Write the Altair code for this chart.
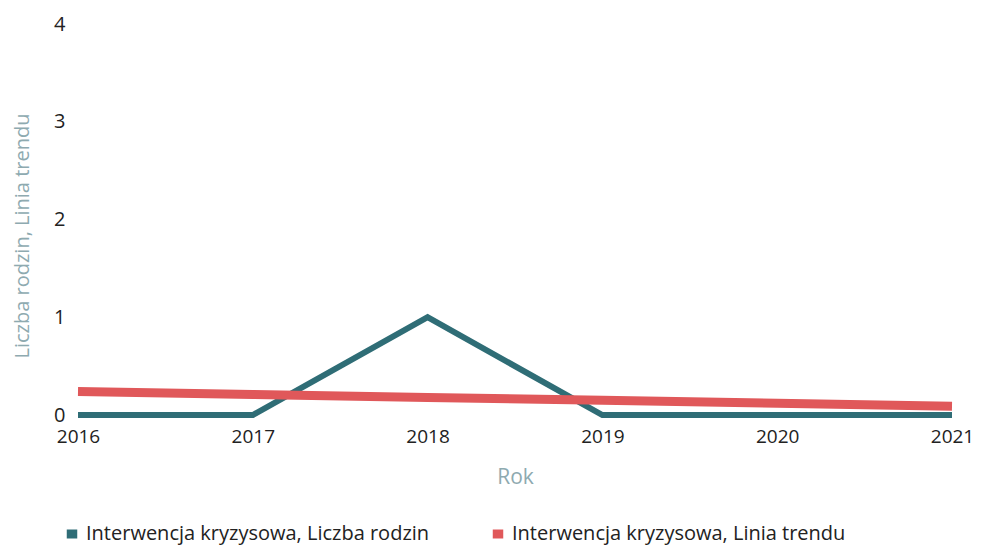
import altair as alt
import pandas as pd

years = [2016, 2017, 2018, 2019, 2020, 2021]
liczba_rodzin = [0, 0, 1, 0, 0, 0]
linia_trendu = [0.24, 0.21, 0.18, 0.15, 0.12, 0.09]
series_names = ["Interwencja kryzysowa, Liczba rodzin", "Interwencja kryzysowa, Linia trendu"]
colors = ["#2f6d76", "#e0585a"]
y_title = "Liczba rodzin, Linia trendu".replace(" ", "\u00a0")

rows = []
for y, a, b in zip(years, liczba_rodzin, linia_trendu):
    rows.append({"Rok": y, "value": a, "series": series_names[0], "order": 0})
    rows.append({"Rok": y, "value": b, "series": series_names[1], "order": 1})
df = pd.DataFrame(rows)

font = "Open Sans"

base = alt.Chart(df).encode(
    x=alt.X("Rok:Q",
            scale=alt.Scale(domain=[2016, 2021], nice=False, zero=False),
            axis=alt.Axis(values=years, format="d", title="Rok", grid=False,
                          domain=False, ticks=False, labelPadding=12, labelFlush=False,
                          labelFontSize=19, labelColor="#222222", labelFont=font,
                          titleFont=font, titleFontSize=21, titleFontWeight="normal",
                          titleColor="#8eaab0", titlePadding=20)),
    y=alt.Y("value:Q",
            scale=alt.Scale(domain=[0, 4], nice=False),
            axis=alt.Axis(values=[0, 1, 2, 3, 4], title=None,
                          grid=False, domain=False, ticks=False, labelPadding=13,
                          labelFontSize=20, labelColor="#222222", labelFont=font)),
    color=alt.Color("series:N",
                    scale=alt.Scale(domain=series_names, range=colors),
                    legend=alt.Legend(title=None, orient="none", direction="horizontal",
                                      legendX=-16, legendY=500,
                                      symbolType="M-1,0H1", symbolSize=110,
                                      symbolStrokeWidth=9, labelFontSize=20,
                                      labelFont=font, labelColor="#222222",
                                      labelLimit=500, columnPadding=44, symbolOffset=0)),
)

teal = base.transform_filter(alt.datum.order == 0).mark_line(strokeWidth=6, strokeJoin="miter")
red = base.transform_filter(alt.datum.order == 1).mark_line(strokeWidth=9)

title_layer = alt.Chart(pd.DataFrame({"t": [y_title]})).mark_text(
    angle=270, align="center", baseline="middle", font=font, fontSize=20,
    color="#8eaab0"
).encode(text="t:N", x=alt.value(-55), y=alt.value(212))

chart = alt.layer(teal, red, title_layer).properties(
    width=874, height=391,
    autosize=alt.AutoSizeParams(type="none"),
    padding={"left": 70, "top": 16, "right": 22, "bottom": 130},
).configure_view(stroke=None)

chart.save("out.html", embed_options={"renderer": "svg", "actions": False})
